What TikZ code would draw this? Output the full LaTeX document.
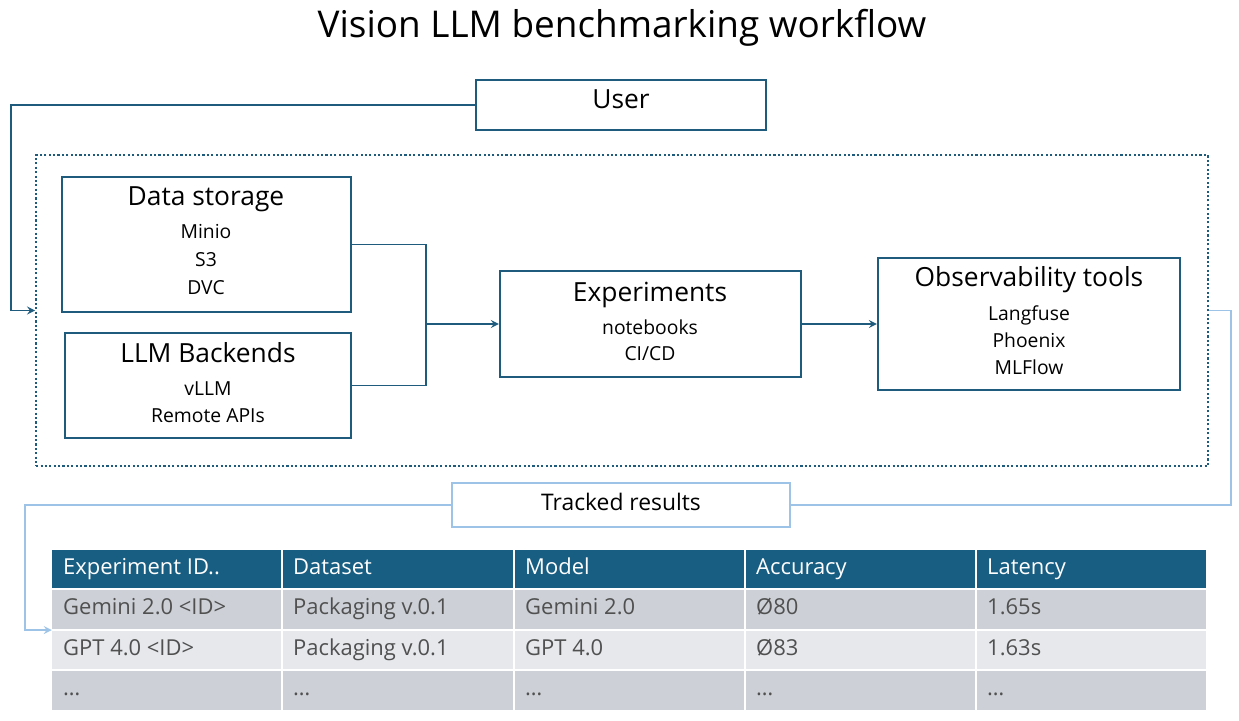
\documentclass[tikz,border=0pt]{standalone}
\usepackage{fontspec}
\setmainfont{Open Sans}
\usepackage{tikz}
\usetikzlibrary{positioning, arrows, shapes}
\definecolor{boxblue}{RGB}{31,91,124}
\definecolor{headblue}{RGB}{24,94,130}
\definecolor{paleblue}{RGB}{157,195,230}
\definecolor{rowgray}{RGB}{205,209,215}
\definecolor{rowlight}{RGB}{230,232,236}
\definecolor{cellgray}{RGB}{80,80,80}
\tikzstyle{arrow} = [draw=boxblue, line width=1pt,->,>=stealth]
\tikzstyle{line} = [draw=boxblue, line width=1pt]
\tikzstyle{palearrow} = [draw=paleblue, line width=1pt,->,>=stealth]
\tikzstyle{box} = [rectangle, draw=boxblue, line width=1.3pt, fill=white, inner sep=0pt]
\tikzstyle{palebox} = [rectangle, draw=paleblue, line width=1.3pt, fill=white, inner sep=0pt]
\tikzstyle{frame} = [rectangle, draw=boxblue, line width=1.2pt, dash pattern=on 1.2pt off 1.3pt, inner sep=0pt]
\tikzstyle{head} = [font=\fontsize{15}{18}\selectfont, text height=1.6ex, text depth=.4ex]
\tikzstyle{item} = [font=\fontsize{11}{13}\selectfont, text height=1.6ex, text depth=.4ex]
\tikzstyle{hdr} = [anchor=west, text=white, font=\fontsize{12.5}{15}\selectfont, text height=1.6ex, text depth=.4ex]
\tikzstyle{cell} = [anchor=west, text=cellgray, font=\fontsize{12.5}{15}\selectfont, text height=1.6ex, text depth=.4ex]

\begin{document}
\begin{tikzpicture}[x=0.02cm, y=-0.02cm]
\useasboundingbox (0,0) rectangle (1239,720);

\node (title) at (622,28) {\fontsize{21}{25}\selectfont Vision LLM benchmarking workflow};

% user and dotted frame
\node (user) [box, minimum width=5.8cm, minimum height=1cm] at (621,105) {};
\node (userT) [head] at (621,103) {User};
\node (frame) [frame, minimum width=23.44cm, minimum height=6.22cm] at (622,310.5) {};

% boxes inside the frame
\node (store) [box, minimum width=5.78cm, minimum height=2.7cm] at (206.5,244.5) {};
\node (storeT) [head] at (206,200) {Data storage};
\node (minio) [item] at (206,233) {Minio};
\node (sthree) [item] at (206,261) {S3};
\node (dvc) [item] at (206,289) {DVC};

\node (llm) [box, minimum width=5.72cm, minimum height=2.1cm] at (208,385.5) {};
\node (llmT) [head] at (208,357) {LLM Backends};
\node (vllm) [item] at (208,390) {vLLM};
\node (remote) [item] at (208,417) {Remote APIs};

\node (exp) [box, minimum width=6.02cm, minimum height=2.12cm] at (650.5,324) {};
\node (expT) [head] at (650,296) {Experiments};
\node (nb) [item] at (650,329) {notebooks};
\node (cicd) [item] at (650,355) {CI/CD};

\node (obs) [box, minimum width=6.04cm, minimum height=2.64cm] at (1029,324) {};
\node (obsT) [head] at (1029,281) {Observability tools};
\node (lang) [item] at (1029,315) {Langfuse};
\node (phx) [item] at (1029,342) {Phoenix};
\node (mlf) [item] at (1029,369) {MLFlow};

\node (tracked) [palebox, minimum width=6.76cm, minimum height=0.88cm] at (621,505) {};
\node (trackedT) [font=\fontsize{13}{16}\selectfont] at (621,502) {Tracked results};

% table
\node (tbl) [minimum width=23.08cm, minimum height=3.2cm, inner sep=0pt] at (629,630) {};
\fill[headblue] (52,550) rectangle (1206,588);
\fill[rowgray] (52,590) rectangle (1206,629);
\fill[rowlight] (52,631) rectangle (1206,669);
\fill[rowgray] (52,671) rectangle (1206,710);
\foreach \c in {282,514,745,976}
  \draw[white, line width=1.2pt] (\c,550) -- (\c,710);
\foreach \c/\t [count=\i] in {52/Experiment ID.., 282/Dataset, 514/Model, 745/Accuracy, 976/Latency}
  \node (hd\i) [hdr] at (\c+5,569) {\t};
\foreach \c/\t [count=\i] in {52/Gemini 2.0 <ID>, 282/Packaging v.0.1, 514/Gemini 2.0, 745/Ø80, 976/1.65s}
  \node (ra\i) [cell] at (\c+5,609) {\t};
\foreach \c/\t [count=\i] in {52/GPT 4.0 <ID>, 282/Packaging v.0.1, 514/GPT 4.0, 745/Ø83, 976/1.63s}
  \node (rb\i) [cell] at (\c+5,650) {\t};
\foreach \c [count=\i] in {52,282,514,745,976}
  \node (rc\i) [cell] at (\c+5,690) {\dots};

% connectors
\coordinate (ubend) at (11,310.5);
\draw [arrow] (user.west) -| (ubend) -- (frame.west);
\coordinate (merge) at (426,324);
\draw [line] (store.east) -| (merge);
\draw [line] (llm.east) -| (merge);
\draw [arrow] (merge) -- (exp.west);
\draw [arrow] (exp.east) -- (obs.west);
\coordinate (rbend) at (1231,505);
\draw [draw=paleblue, line width=1pt] (frame.east) -| (rbend) -- (tracked.east);
\coordinate (lbend) at (25,630);
\draw [palearrow] (tracked.west) -| (lbend) -- (tbl.west);
\end{tikzpicture}
\end{document}
